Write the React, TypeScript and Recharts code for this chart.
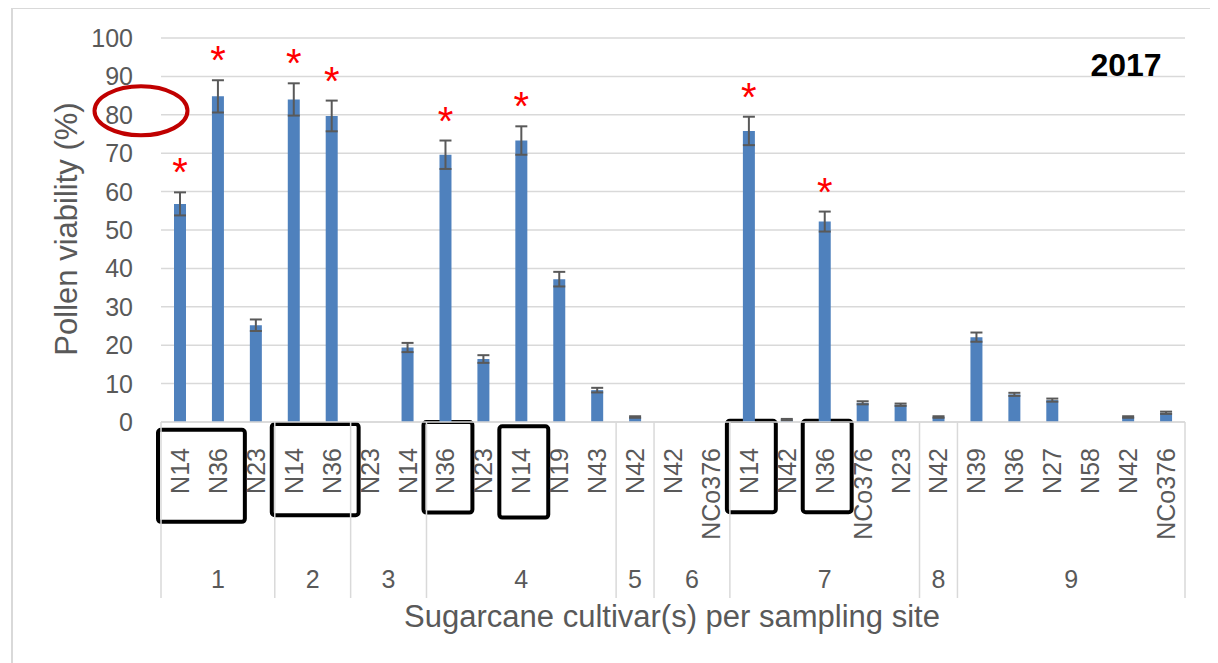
import React from 'react';
import { BarChart, Bar, XAxis, YAxis, CartesianGrid, ErrorBar, LabelList, ReferenceArea, Label } from 'recharts';

// sampling site of each bar, cultivar name, mean viability (%) and error
const sites = ['1', '1', '1', '2', '2', '3', '3', '4', '4', '4', '4', '4', '5', '6', '6', '7', '7', '7', '7', '7', '8', '9', '9', '9', '9', '9', '9'];
const cultivars = ['N14', 'N36', 'N23', 'N14', 'N36', 'N23', 'N14', 'N36', 'N23', 'N14', 'N19', 'N43', 'N42', 'N42', 'NCo376', 'N14', 'N42', 'N36', 'NCo376', 'N23', 'N42', 'N39', 'N36', 'N27', 'N58', 'N42', 'NCo376'];
const viability = [56.8, 84.8, 25.2, 84.0, 79.7, 0, 19.4, 69.6, 16.4, 73.3, 37.2, 8.3, 1.3, 0, 0, 75.8, 0.6, 52.2, 5.0, 4.5, 1.3, 22.1, 7.2, 5.7, 0, 1.3, 2.4];
const errors = [3.0, 4.2, 1.5, 4.2, 4.0, null, 1.2, 3.7, 1.0, 3.7, 1.9, 0.6, 0.2, null, null, 3.7, 0.2, 2.6, 0.4, 0.3, 0.2, 1.2, 0.4, 0.4, null, 0.2, 0.3];
// bars marked with a red asterisk
const starred = [0, 1, 3, 4, 7, 9, 15, 17];
const yTicks = [0, 10, 20, 30, 40, 50, 60, 70, 80, 90, 100];
const circledTick = 80;
// black boxes drawn round some cultivar labels (bar indexes, value range below the axis)
const boxes = [
  { from: 0, to: 1, top: -2, bottom: -26 },
  { from: 3, to: 4, top: -0.5, bottom: -24.3 },
  { from: 7, to: 7, top: 0, bottom: -23.6 },
  { from: 9, to: 9, top: -1.1, bottom: -24.9 },
  { from: 15, to: 15, top: 0.3, bottom: -23.5 },
  { from: 17, to: 17, top: 0.3, bottom: -23.5 },
];

const data = cultivars.map((c, i) => ({
  key: `${sites[i]}-${c}-${i}`,
  cultivar: c,
  value: viability[i],
  err: errors[i],
  star: starred.includes(i) ? i : null,
}));

const W = 1218;
const H = 663;
const MARGIN = { top: 38, right: 33, left: 0, bottom: 65 };
const Y_W = 161;
const CAT_H = 115;
const GRP_H = 61;
const BAND = (W - MARGIN.left - MARGIN.right - Y_W) / data.length;
const FONT = '"Liberation Sans", Arial, sans-serif';
const GREY = '#595959';

function YTick({ x, y, payload }: any) {
  return (
    <g>
      <text x={x} y={y} dy="0.36em" textAnchor="end" fontSize={25} fill={GREY} fontFamily={FONT}>
        {payload.value}
      </text>
      {payload.value === circledTick && (
        <ellipse cx={x + 8} cy={y - 4} rx={46.5} ry={24.5} fill="none" stroke="#c00000" strokeWidth={4} />
      )}
    </g>
  );
}

function CatTick({ x, y, payload }: any) {
  const ty = y + 26;
  return (
    <text
      x={x}
      y={ty}
      dy="0.36em"
      transform={`rotate(-90 ${x} ${ty})`}
      textAnchor="end"
      fontSize={25}
      fill={GREY}
      fontFamily={FONT}
    >
      {cultivars[payload.index]}
    </text>
  );
}

function GroupTick({ x, y, payload }: any) {
  const i = payload.index;
  const site = sites[i];
  const first = i === 0 || sites[i - 1] !== site;
  const last = i === sites.length - 1;
  const n = sites.filter(s => s === site).length;
  return (
    <g>
      {first && (
        <line x1={x - BAND / 2} x2={x - BAND / 2} y1={y - CAT_H} y2={y + GRP_H} stroke="#d9d9d9" strokeWidth={1.5} />
      )}
      {last && (
        <line x1={x + BAND / 2} x2={x + BAND / 2} y1={y - CAT_H} y2={y + GRP_H} stroke="#d9d9d9" strokeWidth={1.5} />
      )}
      {first && (
        <text x={x + ((n - 1) / 2) * BAND} y={y + 51} textAnchor="middle" fontSize={25} fill={GREY} fontFamily={FONT}>
          {site}
        </text>
      )}
    </g>
  );
}

function Star(props: any) {
  const { x, y, width, height, value } = props;
  if (value == null) return null;
  const v = viability[value];
  const perUnit = v > 0 ? height / v : 0;
  const errTop = y - (errors[value] || 0) * perUnit;
  return (
    <text x={x + width / 2} y={errTop - 6} textAnchor="middle" fontSize={40} fill="#ff0000" fontFamily={FONT}>
      *
    </text>
  );
}

function LabelBox(props: any) {
  const { x, y, width, height } = props;
  return (
    <rect x={x - 3} y={y} width={width + 11} height={height} rx={3} fill="none" stroke="#000000" strokeWidth={4} />
  );
}

export default function App() {
  return (
    <div style={{ position: 'relative', width: W, height: H, fontFamily: FONT }}>
      <div
        style={{
          position: 'absolute',
          left: 3,
          top: -1,
          width: 1198,
          height: 700,
          border: '2px solid #d9d9d9',
        }}
      />
      <div style={{ position: 'absolute', left: -8, top: -8 }}>
        <BarChart width={W} height={H} data={data} margin={MARGIN}>
          <CartesianGrid xAxisId="cat" vertical={false} stroke="#d9d9d9" strokeWidth={1.5} />
          <XAxis
            xAxisId="cat"
            dataKey="key"
            height={CAT_H}
            interval={0}
            tickLine={false}
            tickSize={0}
            tickMargin={0}
            axisLine={{ stroke: '#d9d9d9', strokeWidth: 1.5 }}
            tick={<CatTick />}
          />
          <XAxis
            xAxisId="grp"
            dataKey="key"
            height={GRP_H}
            interval={0}
            tickLine={false}
            tickSize={0}
            tickMargin={0}
            axisLine={false}
            tick={<GroupTick />}
          >
            <Label
              content={() => (
                <text x={672} y={627} textAnchor="middle" fontSize={31} fill={GREY} fontFamily={FONT}>
                  Sugarcane cultivar(s) per sampling site
                </text>
              )}
            />
          </XAxis>
          <YAxis
            width={Y_W}
            domain={[0, 100]}
            ticks={yTicks}
            interval={0}
            axisLine={false}
            tickLine={false}
            tickSize={0}
            tickMargin={28}
            tick={<YTick />}
          >
            <Label
              content={() => (
                <text
                  x={66}
                  y={229}
                  dy="0.36em"
                  transform="rotate(-90 66 229)"
                  textAnchor="middle"
                  fontSize={31}
                  fill={GREY}
                  fontFamily={FONT}
                >
                  Pollen viability (%)
                </text>
              )}
            />
          </YAxis>
          <Bar xAxisId="cat" dataKey="value" fill="#4f81bd" barSize={12} isAnimationActive={false}>
            <ErrorBar dataKey="err" direction="y" width={6} stroke="#595959" strokeWidth={2} isAnimationActive={false} />
            <LabelList dataKey="star" content={<Star />} />
          </Bar>
          {boxes.map((b, i) => (
            <ReferenceArea
              key={i}
              xAxisId="cat"
              x1={data[b.from].key}
              x2={data[b.to].key}
              y1={b.bottom}
              y2={b.top}
              ifOverflow="visible"
              shape={<LabelBox />}
            />
          ))}
        </BarChart>
      </div>
      <svg width={W} height={H} style={{ position: 'absolute', left: -8, top: -8, pointerEvents: 'none' }}>
        <text x={1126} y={76} textAnchor="middle" fontSize={32} fontWeight="bold" fill="#000000" fontFamily={FONT}>
          2017
        </text>
      </svg>
    </div>
  );
}
